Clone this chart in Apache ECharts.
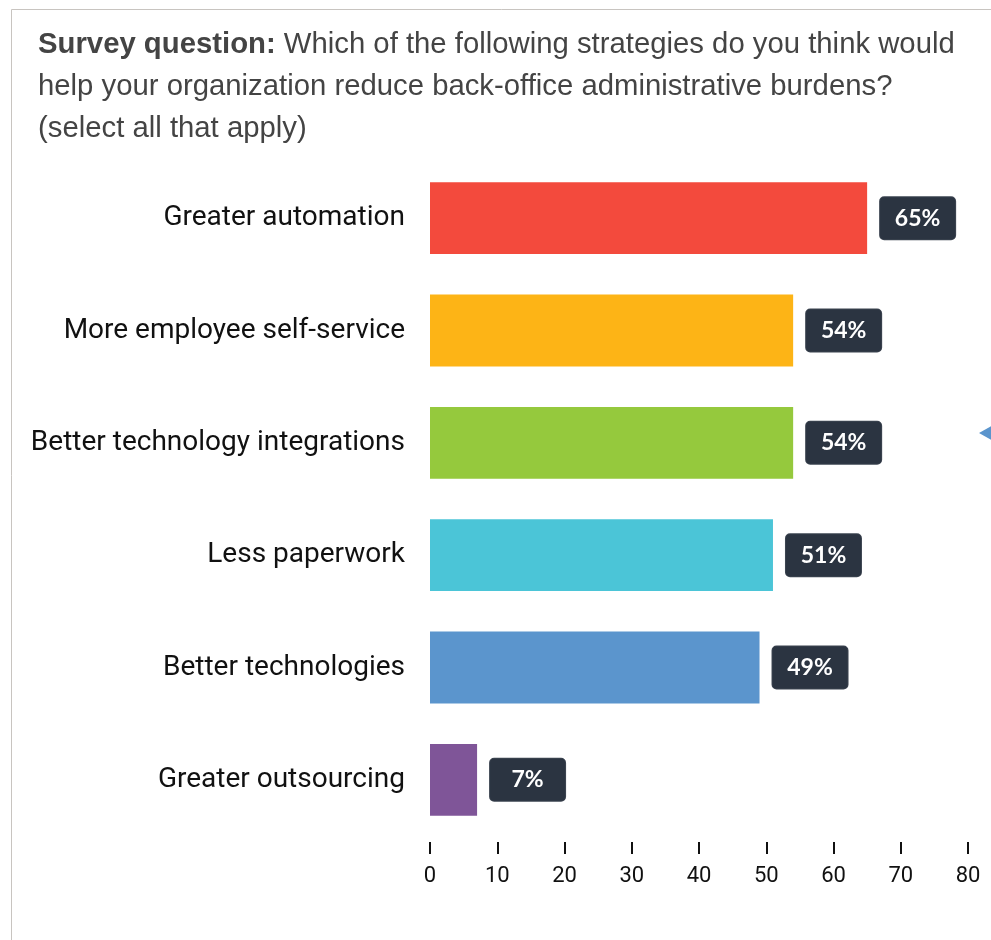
<!DOCTYPE html>
<html>
<head>
<meta charset="utf-8">
<title>Strategies to reduce back-office administrative burdens</title>
<script src="https://cdn.jsdelivr.net/npm/echarts@6/dist/echarts.min.js"></script>
<style>
  html, body { margin: 0; padding: 0; background: #ffffff; }
  #chart { width: 991px; height: 940px; }
</style>
</head>
<body>
<div id="chart"></div>
<script>
// Survey responses: share of respondents choosing each strategy (%)
const categories = [
  'Greater automation',
  'More employee self-service',
  'Better technology integrations',
  'Less paperwork',
  'Better technologies',
  'Greater outsourcing'
];
const values = [65, 54, 54, 51, 49, 7];
const barColors = ['#f34a3d', '#fdb416', '#95c93d', '#4bc5d7', '#5b95cd', '#7f5598'];

const axisMin = 0;
const axisMax = 80;
const axisStep = 10;

const chart = echarts.init(document.getElementById('chart'), null, { renderer: 'canvas' });

chart.setOption({
  animation: false,
  backgroundColor: '#ffffff',
  title: {
    left: 33,
    top: 19,
    text: '{b|Survey question:} Which of the following strategies do you think would\nhelp your organization reduce back-office administrative burdens?\n(select all that apply)',
    textStyle: {
      fontFamily: 'Liberation Sans, Arial, sans-serif',
      fontSize: 29.3,
      fontWeight: 'normal',
      color: '#444444',
      lineHeight: 42,
      rich: {
        b: {
          fontFamily: 'Liberation Sans, Arial, sans-serif',
          fontSize: 29.3,
          fontWeight: 'bold',
          color: '#444444',
          lineHeight: 42
        }
      }
    }
  },
  graphic: [
    {
      type: 'rect',
      silent: true,
      shape: { x: 11.5, y: 9.5, width: 1200, height: 1200 },
      style: { fill: 'none', stroke: '#c8c4c0', lineWidth: 1 }
    },
    {
      type: 'polygon',
      silent: true,
      shape: { points: [[979, 433], [993, 425], [993, 441]] },
      style: { fill: '#5b95cd' }
    }
  ],
  grid: {
    left: 430,
    right: 23,
    top: 162,
    bottom: 104,
    containLabel: false
  },
  xAxis: {
    type: 'value',
    min: axisMin,
    max: axisMax,
    interval: axisStep,
    offset: 6,
    splitLine: { show: false },
    axisLine: { show: false },
    axisTick: {
      show: true,
      length: 12,
      lineStyle: { color: '#111111', width: 2 }
    },
    axisLabel: {
      margin: 23,
      fontFamily: 'Roboto, sans-serif',
      fontSize: 22,
      color: '#111111'
    }
  },
  yAxis: {
    type: 'category',
    data: categories,
    inverse: true,
    axisLine: { show: false },
    axisTick: { show: false },
    splitLine: { show: false },
    axisLabel: {
      margin: 25,
      fontFamily: 'Roboto, sans-serif',
      fontSize: 28,
      color: '#111111'
    }
  },
  series: [
    {
      type: 'bar',
      barWidth: '64%',
      data: values.map((v, i) => ({ value: v, itemStyle: { color: barColors[i] } })),
      label: {
        show: true,
        position: 'right',
        distance: 13,
        formatter: '{v|{c}%}',
        backgroundColor: '#2b3441',
        borderColor: '#3d4551',
        borderWidth: 1,
        borderRadius: 4,
        padding: [9, 15, 9, 15],
        rich: {
          v: {
            width: 45,
            align: 'center',
            fontFamily: 'Lato, sans-serif',
            fontWeight: 'bold',
            fontSize: 23,
            lineHeight: 24,
            color: '#ffffff'
          }
        }
      }
    }
  ]
});
</script>
</body>
</html>
